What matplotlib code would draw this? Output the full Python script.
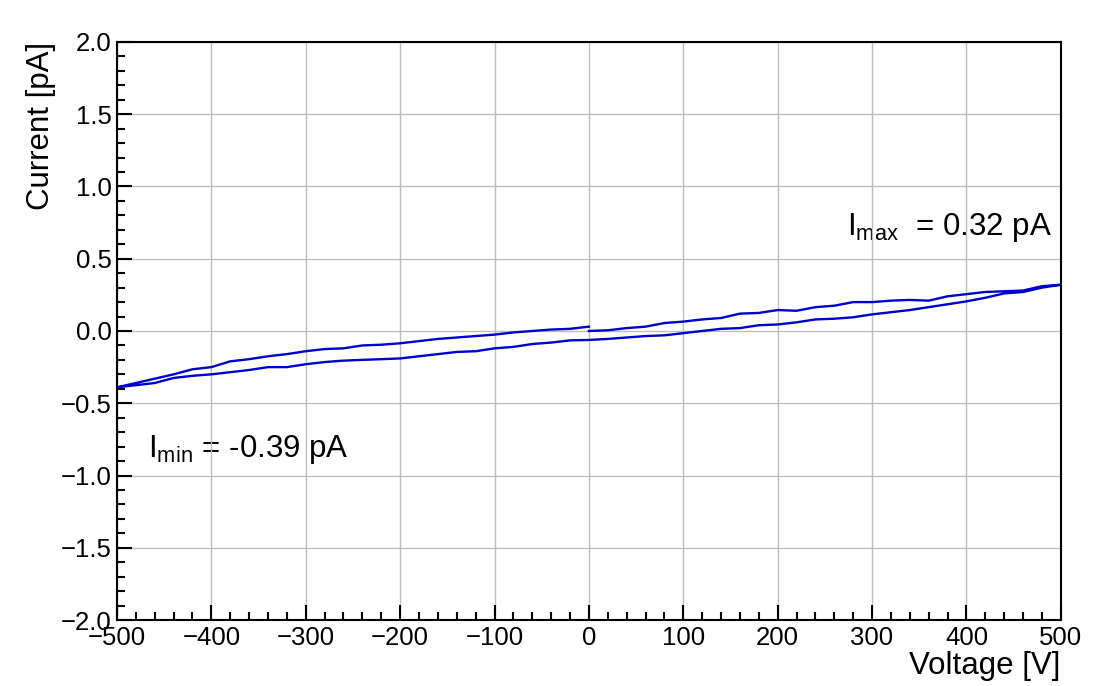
import numpy as np
import matplotlib
matplotlib.use("Agg")
import matplotlib.pyplot as plt
from matplotlib.ticker import MultipleLocator

plt.rcParams['font.family'] = ['Liberation Sans', 'DejaVu Sans']

# IV sweep: 0 -> 500 -> -500 -> 0, steps of 20 V
v_up = np.arange(0, 501, 20)
i_up = [0.0, 0.005, 0.02, 0.03, 0.055, 0.065, 0.08, 0.09, 0.12, 0.125,
        0.145, 0.14, 0.165, 0.175, 0.2, 0.2, 0.21, 0.215, 0.21, 0.24,
        0.255, 0.27, 0.275, 0.28, 0.31, 0.32]

v_down = np.arange(480, -501, -20)
i_down = [0.30, 0.27, 0.26, 0.23, 0.205, 0.185, 0.165, 0.145, 0.13, 0.115,
          0.095, 0.085, 0.08, 0.06, 0.045, 0.04, 0.02, 0.015, 0.0, -0.015,
          -0.03, -0.035, -0.045, -0.055, -0.062,
          -0.065, -0.08, -0.09, -0.11, -0.12, -0.14, -0.145, -0.16, -0.175, -0.19,
          -0.195, -0.20, -0.205, -0.215, -0.23, -0.25, -0.25, -0.27, -0.285, -0.30,
          -0.31, -0.325, -0.36, -0.375, -0.39]

v_back = np.arange(-480, 1, 20)
i_back = [-0.36, -0.33, -0.30, -0.265, -0.25, -0.21, -0.195, -0.175, -0.16, -0.14,
          -0.125, -0.12, -0.10, -0.095, -0.085, -0.07, -0.055, -0.045, -0.035, -0.025,
          -0.01, 0.0, 0.01, 0.015, 0.03]

volt = np.concatenate([v_up, v_down, v_back])
curr = np.concatenate([i_up, i_down, i_back])

fig = plt.figure(figsize=(10.95, 6.86), dpi=100)
ax = fig.add_axes([0.1068, 0.0962, 0.862, 0.8426])

ax.plot(volt, curr, color='#0000cc', lw=1.7, zorder=2)

ax.set_xlim(-500, 500)
ax.set_ylim(-2, 2)
ax.xaxis.set_major_locator(MultipleLocator(100))
ax.xaxis.set_minor_locator(MultipleLocator(20))
ax.yaxis.set_major_locator(MultipleLocator(0.5))
ax.yaxis.set_minor_locator(MultipleLocator(0.1))
ax.tick_params(which='both', direction='in', top=False, right=False,
               width=1.5, labelsize=18.5, pad=4)
ax.tick_params(which='major', length=11)
ax.tick_params(which='minor', length=6)
for s in ax.spines.values():
    s.set_linewidth(1.5)

ax.grid(True, which='major', color='#bdbdbd', lw=1)

ax.set_xlabel('Voltage [V]', fontsize=22.5, loc='right', labelpad=1)
ax.set_ylabel('Current [pA]', fontsize=22.5, loc='top', labelpad=3)

ax.text(273, 0.664, r'$\mathregular{I_{max}}$  = 0.32 pA', fontsize=22.5, zorder=0.1)
ax.text(-467, -0.872, r'$\mathregular{I_{min}}$ = -0.39 pA', fontsize=22.5, zorder=0.1)

fig.savefig('out.png', dpi=100)
